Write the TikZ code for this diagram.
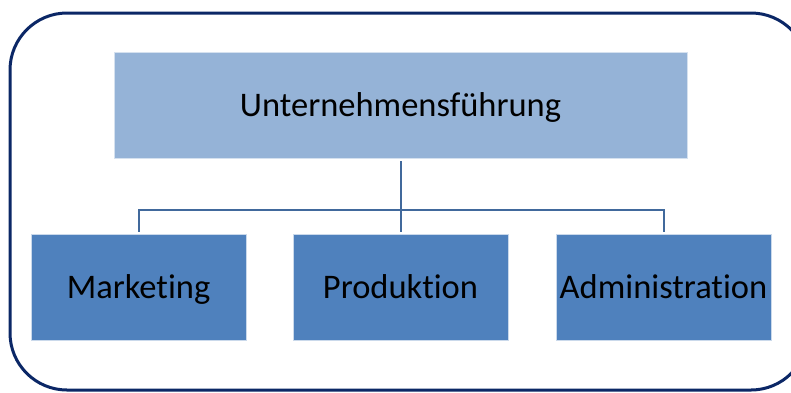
\documentclass[tikz,border=0pt]{standalone}
\usepackage{fontspec}
\setmainfont[Ligatures={NoCommon}]{Carlito}
\definecolor{frameblue}{HTML}{0B2766}
\definecolor{topfill}{HTML}{95B3D7}
\definecolor{boxfill}{HTML}{4F81BD}
\definecolor{linkblue}{HTML}{41699C}
\tikzset{
  unitbox/.style={rectangle, draw=white!70!boxfill, line width=0.8pt, minimum width=215pt, minimum height=106pt, inner sep=0pt, font=\fontsize{34.5}{40}\selectfont, text=black, text height=22pt, text depth=0pt},
  headbox/.style={unitbox, fill=topfill, draw=white!60!topfill, minimum width=573pt},
  subbox/.style={unitbox, fill=boxfill},
  link/.style={draw=linkblue, line width=2pt}
}
\begin{document}
\begin{tikzpicture}[x=1pt,y=-1pt]
\useasboundingbox (0,0) rectangle (791,392);
\clip (0,0) rectangle (791,392);
\draw[frameblue, line width=3pt, rounded corners=57pt] (10,13) rectangle (808,390);
\node[headbox] (top) at (400.5,105) {Unternehmensführung};
\node[subbox] (mark) at (138.5,287) {Marketing};
\node[subbox] (prod) at (400.5,287) {Produktion};
\node[subbox] (admin) at (663.5,287) {Administration};
\coordinate (bus) at (400.5,210);
\draw[link, shorten <=3pt] (top.south) -- (bus);
\draw[link, shorten <=2pt, shorten >=2pt] (mark.north) |- (bus) -| (admin.north);
\draw[link, shorten >=2pt] (bus) -- (prod.north);
\end{tikzpicture}
\end{document}
